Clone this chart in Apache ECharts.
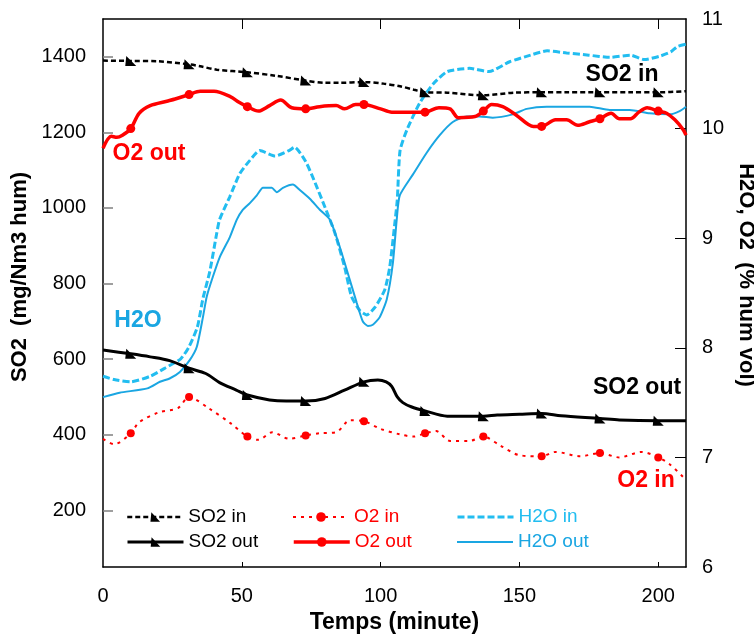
<!DOCTYPE html>
<html><head><meta charset="utf-8">
<script src="https://cdn.jsdelivr.net/npm/echarts@6/dist/echarts.min.js"></script>
<style>html,body{margin:0;padding:0;background:#fff}#c{width:754px;height:635px}</style>
</head><body><div id="c"></div>
<script>
// ---- tick labels ----
const xLabels = [0, 50, 100, 150, 200];
const xTickVals = [50, 100, 150, 200];
const leftTicks = [200, 400, 600, 800, 1000, 1200, 1400];
const rightTickVals = [7, 8, 9, 10];
const markerTimes = [10, 31, 52, 73, 94, 116, 137, 158, 179, 200];

// ---- series (time in minutes, value) ----
const so2InT = [0,10,20,31,35,41,52,62,73,80,85,94,101,107,112,116,124,137,148,158,167,179,190,200,210];
const so2InV = [1390,1389,1388,1380,1375,1366,1359,1350,1337,1331,1331,1333,1329,1322,1313,1306,1305,1298,1305,1306,1306,1306,1306,1306,1309];

const so2OutT = [0,10,17,24,31,37,42,48,52,60,66,73,80,87,94,99,102,104,106,108,111,116,124,137,142,150,158,165,179,186,200,210];
const so2OutV = [624,614,606,596,576,562,538,518,505,492,489,489,496,518,540,545,540,528,500,485,474,463,449,449,452,454,456,450,443,439,437,437];

const o2InT = [0,4,10,13,20,27,31,38,46,52,56,61,67,73,78,84,89,94,100,107,112,116,120,125,132,137,143,150,158,163,172,179,186,194,200,204,209];
const o2InV = [7.17,7.12,7.22,7.32,7.41,7.45,7.55,7.45,7.31,7.19,7.16,7.23,7.17,7.20,7.22,7.23,7.34,7.33,7.26,7.21,7.19,7.22,7.24,7.15,7.15,7.19,7.11,7.02,7.01,7.05,7.01,7.04,7.00,7.05,7.00,6.94,6.82];

const o2OutT = [0,3,5,7,10,13,17,23,26,31,35,40,46,49,52,56,60,64,68,73,78,84,87,91,94,100,104,112,116,121,125,128,134,137,140,144,149,155,158,163,167,171,175,179,183,186,190,193,196,200,203,206,209,210];
const o2OutV = [9.82,9.93,9.92,9.94,10.00,10.14,10.21,10.25,10.27,10.31,10.34,10.34,10.29,10.24,10.20,10.16,10.21,10.26,10.19,10.18,10.20,10.21,10.18,10.22,10.22,10.18,10.15,10.15,10.15,10.19,10.18,10.10,10.11,10.16,10.22,10.20,10.12,10.02,10.02,10.08,10.08,10.03,10.06,10.09,10.14,10.09,10.09,10.15,10.19,10.16,10.14,10.08,9.99,9.94];

const h2oInT = [0,4,10,17,22,28,31,34,36,38.5,41,42,45.7,49.3,52.9,56.5,62,67,69,73,76,80,83.5,87,89.5,92.5,95,98,101.5,103.3,105,106,107,109.5,114,119,124,132,139,146.5,154,160,167,175,182.5,190,195,200.5,204.5,207,210];
const h2oInV = [7.74,7.71,7.69,7.74,7.81,7.90,8.01,8.19,8.45,8.70,9.05,9.17,9.38,9.59,9.71,9.80,9.75,9.80,9.83,9.70,9.53,9.28,9.05,8.74,8.47,8.34,8.30,8.37,8.53,8.74,9.11,9.35,9.80,9.99,10.23,10.41,10.52,10.55,10.52,10.61,10.67,10.71,10.69,10.67,10.65,10.67,10.63,10.66,10.70,10.75,10.77];

const h2oOutT = [0,6,16,20.5,24,27.7,31.3,33.8,36,37.4,39.6,42.1,45.7,48.2,50.4,52.9,55.4,57.6,60.8,62.6,64.8,68.4,70.9,74.5,78.1,81.7,85.3,88.9,91.4,93.6,95.4,97.2,99.7,102.2,104.4,105.8,106.9,111.6,116.6,121.3,126,131,135.7,140.4,147.6,152.6,159.8,167,175.3,182.5,189.7,196.9,204.1,207.7,210];
const h2oOutV = [7.55,7.59,7.63,7.69,7.72,7.78,7.89,8.01,8.28,8.47,8.65,8.83,9.01,9.17,9.26,9.32,9.39,9.46,9.46,9.42,9.46,9.49,9.44,9.36,9.26,9.17,8.92,8.62,8.41,8.24,8.20,8.21,8.28,8.44,8.77,9.17,9.39,9.58,9.78,9.94,10.06,10.11,10.11,10.10,10.13,10.18,10.20,10.20,10.20,10.17,10.17,10.14,10.13,10.16,10.20];

const FONT = '"Liberation Sans", Arial, sans-serif';
const RED = '#ff0000', CYAN_IN = '#22bdf0', CYAN_OUT = '#1aa6e2';
const TRI = 'path://M1,0 L11,10 L0,10 Z';

function build(t, v, marked) {
  return t.map((x, i) => {
    const it = { value: [x, v[i]] };
    if (!marked || markerTimes.indexOf(x) < 0) it.symbol = 'none';
    return it;
  });
}

const chart = echarts.init(document.getElementById('c'), null, { renderer: 'canvas' });

function legendAt(name, color, left, top, noSymbol) {
  const item = { name: name, textStyle: { color: color } };
  if (noSymbol) item.itemStyle = { color: 'rgba(0,0,0,0)', borderColor: 'rgba(0,0,0,0)', borderWidth: 0, opacity: 0 };
  return {
    data: [item],
    left: left, top: top, orient: 'horizontal',
    itemWidth: 56, itemHeight: 12, itemGap: 6, padding: 0,
    selectedMode: false,
    lineStyle: { width: 'inherit' },
    textStyle: { fontSize: 19, fontFamily: FONT, lineHeight: 20 }
  };
}

chart.setOption({
  animation: false,
  backgroundColor: '#fff',
  grid: { left: 103, right: 68, top: 19, bottom: 68, containLabel: false, outerBoundsMode: 'none' },
  legend: [
    legendAt('SO2 in', '#000', 126, 507),
    legendAt('SO2 out', '#000', 126, 532),
    legendAt('O2 in', RED, 292, 507),
    legendAt('O2 out', RED, 292, 532),
    legendAt('H2O in', CYAN_IN, 456, 507, true),
    legendAt('H2O out', CYAN_OUT, 456, 532, true)
  ],
  xAxis: [{
    type: 'value', min: 0, max: 210, position: 'bottom',
    axisLine: { show: true, onZero: false, lineStyle: { color: '#000', width: 1.5 } },
    axisTick: { show: true, inside: true, length: 5, customValues: xTickVals, lineStyle: { color: '#000', width: 1 } },
    axisLabel: { show: true, customValues: xLabels, fontSize: 20, color: '#000', margin: 19, fontFamily: FONT },
    splitLine: { show: false },
    name: 'Temps (minute)', nameLocation: 'middle', nameGap: 42,
    nameTextStyle: { fontSize: 23, fontWeight: 'bold', color: '#000', fontFamily: FONT }
  }, {
    type: 'value', min: 0, max: 210, position: 'top',
    axisLine: { show: true, onZero: false, lineStyle: { color: '#000', width: 1.5 } },
    axisTick: { show: true, inside: true, length: 10, customValues: xTickVals, lineStyle: { color: '#000', width: 1 } },
    axisLabel: { show: false },
    splitLine: { show: false }
  }],
  yAxis: [{
    type: 'value', min: 50, max: 1500, position: 'left',
    axisLine: { show: true, onZero: false, lineStyle: { color: '#000', width: 1.5 } },
    axisTick: { show: true, inside: true, length: 10, customValues: leftTicks, lineStyle: { color: '#808080', width: 1.5 } },
    axisLabel: { show: true, customValues: leftTicks, fontSize: 20, color: '#000', margin: 17, fontFamily: FONT,
                 formatter: function (v) { return String(v); } },
    splitLine: { show: false },
    name: 'SO2  (mg/Nm3 hum)', nameLocation: 'middle', nameGap: 56,
    nameTextStyle: { fontSize: 22, fontWeight: 'bold', color: '#000', fontFamily: FONT, padding: [0, 0, 0, 32] }
  }, {
    type: 'value', min: 6, max: 11, interval: 1, position: 'right',
    axisLine: { show: true, onZero: false, lineStyle: { color: '#000', width: 1.5 } },
    axisTick: { show: true, inside: true, length: 11, customValues: rightTickVals, lineStyle: { color: '#000', width: 1 } },
    axisLabel: { show: true, fontSize: 20, color: '#000', margin: 16, fontFamily: FONT },
    splitLine: { show: false },
    name: 'H2O, O2  (% hum vol)', nameLocation: 'middle', nameGap: 35, nameRotate: -90,
    nameTextStyle: { fontSize: 22, fontWeight: 'bold', color: '#000', fontFamily: FONT, padding: [0, 36, 0, 0] }
  }],
  series: [
    { name: 'SO2 in', type: 'line', xAxisIndex: 0, yAxisIndex: 0, data: build(so2InT, so2InV, true),
      symbol: TRI, symbolSize: [11, 10], itemStyle: { color: '#000' }, smooth: 0.3,
      lineStyle: { color: '#000', width: 2.5, type: [5, 3] }, z: 3 },
    { name: 'SO2 out', type: 'line', xAxisIndex: 0, yAxisIndex: 0, data: build(so2OutT, so2OutV, true),
      symbol: TRI, symbolSize: [11, 10], itemStyle: { color: '#000' }, smooth: 0.3,
      lineStyle: { color: '#000', width: 3 }, z: 3 },
    { name: 'O2 in', type: 'line', xAxisIndex: 0, yAxisIndex: 1, data: build(o2InT, o2InV, true),
      symbol: 'circle', symbolSize: 8, itemStyle: { color: RED }, smooth: 0.3,
      lineStyle: { color: RED, width: 2, type: [3, 5] }, z: 3 },
    { name: 'O2 out', type: 'line', xAxisIndex: 0, yAxisIndex: 1, data: build(o2OutT, o2OutV, true),
      symbol: 'circle', symbolSize: 9, itemStyle: { color: RED }, smooth: 0.3,
      lineStyle: { color: RED, width: 3.5 }, z: 3 },
    { name: 'H2O in', type: 'line', xAxisIndex: 0, yAxisIndex: 1, data: build(h2oInT, h2oInV, false),
      symbol: 'none', itemStyle: { color: CYAN_IN }, smooth: 0.2,
      lineStyle: { color: CYAN_IN, width: 3, type: [7, 3] }, z: 2 },
    { name: 'H2O out', type: 'line', xAxisIndex: 0, yAxisIndex: 1, data: build(h2oOutT, h2oOutV, false),
      symbol: 'none', itemStyle: { color: CYAN_OUT }, smooth: 0.2,
      lineStyle: { color: CYAN_OUT, width: 2 }, z: 2 }
  ],
  graphic: [
    { type: 'text', style: { x: 622, y: 75, text: 'SO2 in', fill: '#000', font: 'bold 23px ' + FONT, textAlign: 'center', textVerticalAlign: 'middle' } },
    { type: 'text', style: { x: 149, y: 154, text: 'O2 out', fill: RED, font: 'bold 23px ' + FONT, textAlign: 'center', textVerticalAlign: 'middle' } },
    { type: 'text', style: { x: 138, y: 321, text: 'H2O', fill: CYAN_OUT, font: 'bold 23px ' + FONT, textAlign: 'center', textVerticalAlign: 'middle' } },
    { type: 'text', style: { x: 637, y: 388, text: 'SO2 out', fill: '#000', font: 'bold 23px ' + FONT, textAlign: 'center', textVerticalAlign: 'middle' } },
    { type: 'text', style: { x: 646, y: 481, text: 'O2 in', fill: RED, font: 'bold 23px ' + FONT, textAlign: 'center', textVerticalAlign: 'middle' } }
  ]
});
</script>
</body></html>
